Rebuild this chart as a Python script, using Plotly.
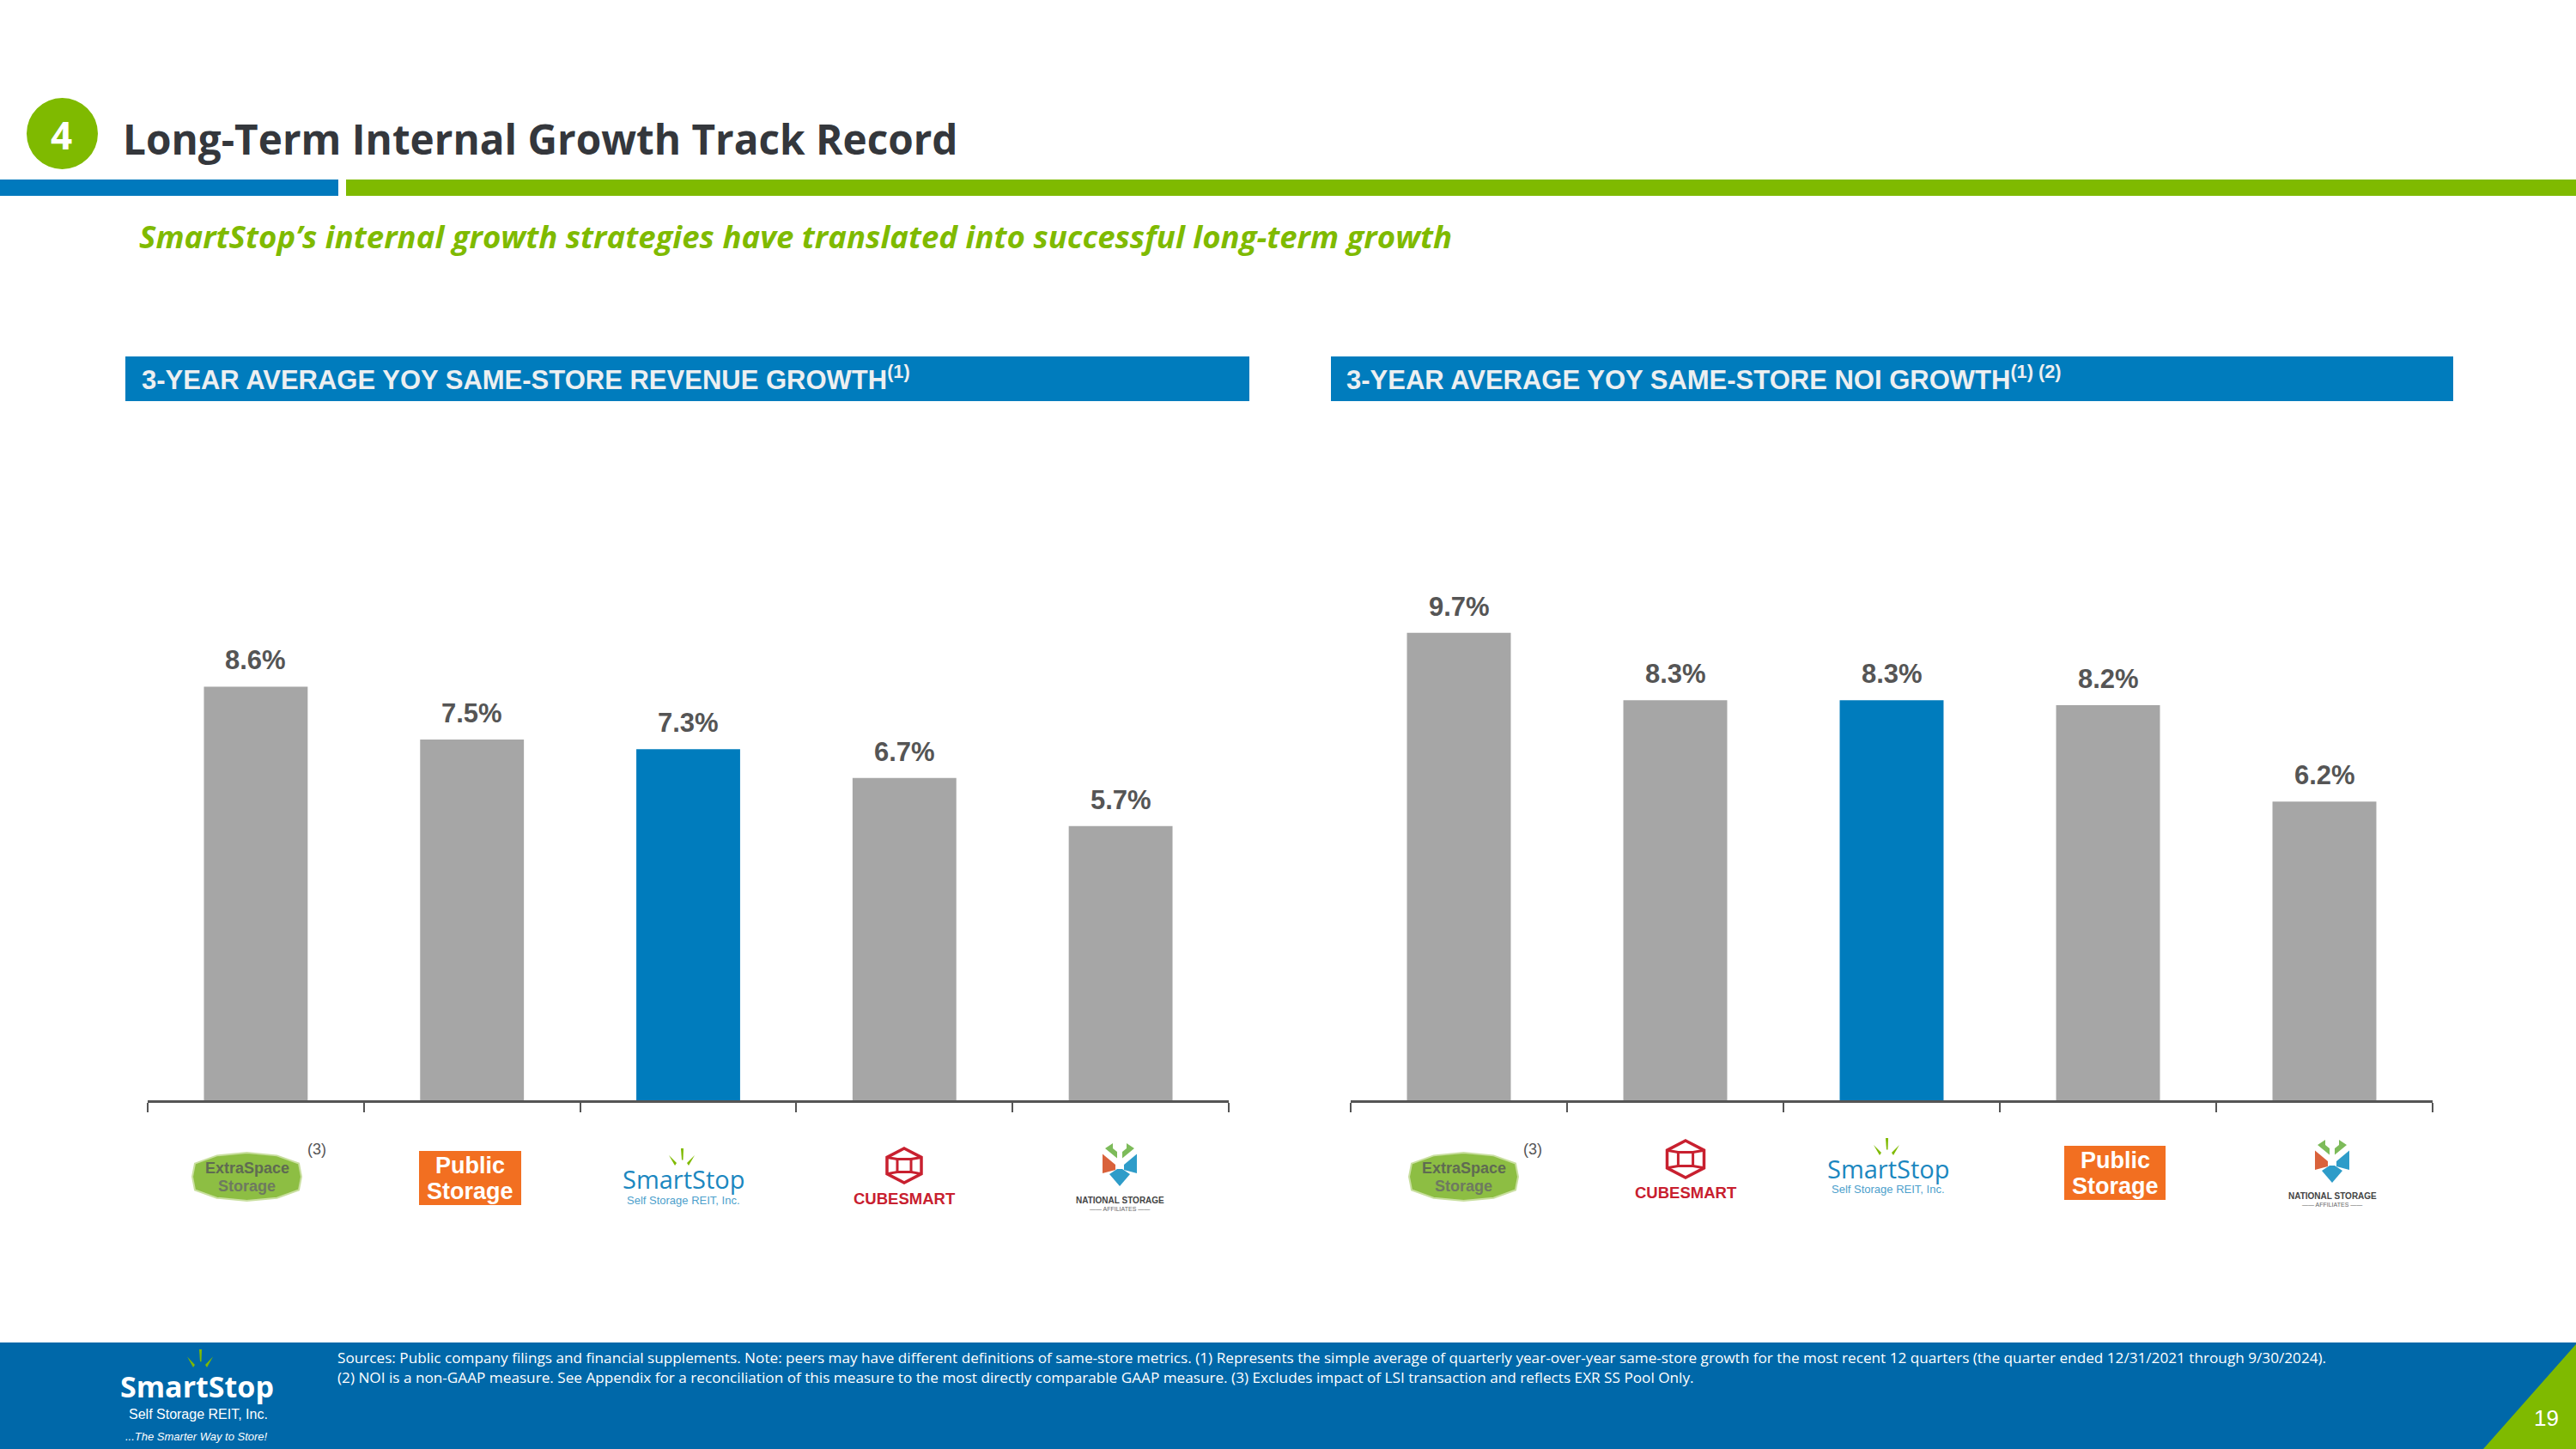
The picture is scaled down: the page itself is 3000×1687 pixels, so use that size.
import plotly.graph_objects as go

W, H = 3000, 1687

# ---- data ----
rev_companies = ["Extra Space Storage", "Public Storage", "SmartStop", "CubeSmart", "National Storage Affiliates"]
rev_values = [8.6, 7.5, 7.3, 6.7, 5.7]
noi_companies = ["Extra Space Storage", "CubeSmart", "SmartStop", "Public Storage", "National Storage Affiliates"]
noi_values = [9.7, 8.3, 8.3, 8.2, 6.2]
highlight = "SmartStop"

title_text = "Long-Term Internal Growth Track Record"
subtitle_text = "SmartStop’s internal growth strategies have translated into successful long-term growth"
rev_title = "3-YEAR AVERAGE YOY SAME-STORE REVENUE GROWTH<sup>(1)</sup>"
noi_title = "3-YEAR AVERAGE YOY SAME-STORE NOI GROWTH<sup>(1) (2)</sup>"
foot_1 = ("Sources: Public company filings and financial supplements. Note: peers may have different definitions of "
          "same-store metrics. (1) Represents the simple average of quarterly year-over-year same-store growth for the "
          "most recent 12 quarters (the quarter ended 12/31/2021 through 9/30/2024).")
foot_2 = ("(2) NOI is a non-GAAP measure. See Appendix for a reconciliation of this measure to the most directly "
          "comparable GAAP measure. (3) Excludes impact of LSI transaction and reflects EXR SS Pool Only.")

# ---- style ----
GREY = "#A6A6A6"
BLUE = "#007CBD"
GREEN = "#7FBA00"
FOOT = "#0068A9"
DARK = "#34373C"
LABEL = "#555555"
SANS = "Liberation Sans"
OPEN = "Open Sans"


def px(x):
    return x / W


def py(y):
    return 1 - y / H


shapes, ann = [], []


def rect(x0, y0, x1, y1, color):
    shapes.append(dict(type="rect", xref="paper", yref="paper", x0=px(x0), x1=px(x1), y0=py(y0), y1=py(y1),
                       fillcolor=color, line_width=0, layer="below"))


def path(pts, fill=None, line=None, lw=0, close=True):
    d = "M" + " L".join(f"{px(a):.5f},{py(b):.5f}" for a, b in pts) + (" Z" if close else "")
    shapes.append(dict(type="path", xref="paper", yref="paper", path=d,
                       fillcolor=fill if fill else "rgba(0,0,0,0)",
                       line=dict(color=line if line else "rgba(0,0,0,0)", width=lw), layer="above"))


def text(x, y, s, size, color, family=SANS, anchor="center", bold=False, italic=False):
    if bold:
        s = f"<b>{s}</b>"
    if italic:
        s = f"<i>{s}</i>"
    ann.append(dict(xref="paper", yref="paper", x=px(x), y=py(y), text=s, showarrow=False, xanchor=anchor,
                    yanchor="middle", align=anchor if anchor != "center" else "center",
                    font=dict(size=size, color=color, family=family), borderpad=0, borderwidth=0))


def sparks(cx, y0, y1, color=GREEN):
    h = y1 - y0
    path([(cx - 1, y0), (cx + 2, y0), (cx + 1.5, y0 + h * 0.75), (cx, y0 + h * 0.75)], fill=color)
    path([(cx - 15, y0 + h * 0.45), (cx - 6, y1 - 1), (cx - 8, y1 + 2)], fill=color)
    path([(cx + 15, y0 + h * 0.45), (cx + 6, y1 - 1), (cx + 8, y1 + 2)], fill=color)


def extra_space(x0, x1, y0, y1):
    cx, cy = (x0 + x1) / 2, (y0 + y1) / 2
    hw, hh = (x1 - x0) / 2, (y1 - y0) / 2
    path([(x0 + 3, cy - hh * 0.55), (cx - hw * 0.55, cy - hh * 0.88), (cx, y0), (cx + hw * 0.55, cy - hh * 0.88),
          (x1 - 3, cy - hh * 0.55), (x1, cy), (x1 - 3, cy + hh * 0.55), (cx + hw * 0.55, cy + hh * 0.88), (cx, y1),
          (cx - hw * 0.55, cy + hh * 0.88), (x0 + 3, cy + hh * 0.55), (x0, cy)],
         fill="#8DBE43", line="#C9DFA0", lw=2)
    text(cx, cy - 10, "ExtraSpace", 18, "#5F6B52", bold=True)
    text(cx, cy + 11, "Storage", 18, "#6E7A60", bold=True)


def public_storage(x0, x1, y0, y1):
    rect(x0, y0, x1, y1, "#F26F21")
    shapes[-1]["layer"] = "above"
    cx, cy = (x0 + x1) / 2, (y0 + y1) / 2
    text(cx, cy - 15, "Public", 27, "white", bold=True)
    text(cx, cy + 15, "Storage", 27, "white", bold=True)


def smartstop(cx, sy0, ty, sub_y):
    sparks(cx - 2, sy0, sy0 + 18)
    text(cx, ty, "SmartStop", 29, "#1B87C0", family=OPEN, bold=False)
    text(cx, sub_y, "Self Storage REIT, Inc.", 13, "#4D9FCC")


def cube(cx, y0, y1, ty):
    red = "#C8202F"
    hw = (y1 - y0) * 0.5
    q = (y1 - y0) * 0.26
    path([(cx, y0), (cx + hw, y0 + q), (cx + hw, y1 - q), (cx, y1), (cx - hw, y1 - q), (cx - hw, y0 + q)],
         line=red, lw=3.5)
    i = hw * 0.4
    path([(cx - hw, y0 + q), (cx - i, y0 + q * 1.2), (cx + i, y0 + q * 1.2), (cx + hw, y0 + q)],
         line=red, lw=3, close=False)
    path([(cx - hw, y1 - q), (cx - i, y1 - q * 1.2), (cx + i, y1 - q * 1.2), (cx + hw, y1 - q)],
         line=red, lw=3, close=False)
    path([(cx - i, y0 + q * 1.2), (cx - i, y1 - q * 1.2)], line=red, lw=3, close=False)
    path([(cx + i, y0 + q * 1.2), (cx + i, y1 - q * 1.2)], line=red, lw=3, close=False)
    text(cx, ty, "CUBESMART", 18.5, red, bold=True)


def nsa(cx, y0, y1, ty):
    h = y1 - y0
    path([(cx - 3, y0 + h * 0.35), (cx - 17, y0 + h * 0.12), (cx - 8, y0), (cx - 8, y0 + h * .12), (cx - 3, y0 + h * .2)],
         fill="#7DBB5A")
    path([(cx + 3, y0 + h * 0.35), (cx + 17, y0 + h * 0.12), (cx + 8, y0), (cx + 8, y0 + h * .12), (cx + 3, y0 + h * .2)],
         fill="#7DBB5A")
    path([(cx - 20, y0 + h * 0.25), (cx - 5, y0 + h * 0.5), (cx - 5, y0 + h * 0.62), (cx - 20, y0 + h * 0.7)],
         fill="#D9623B")
    path([(cx + 20, y0 + h * 0.25), (cx + 5, y0 + h * 0.5), (cx + 5, y0 + h * 0.62), (cx + 20, y0 + h * 0.7)],
         fill="#2E9CC9")
    path([(cx - 12, y0 + h * 0.72), (cx, y1), (cx + 12, y0 + h * 0.72), (cx + 3, y0 + h * 0.6), (cx - 3, y0 + h * 0.6)],
         fill="#2E9CC9")
    text(cx, ty, "NATIONAL STORAGE", 10, "#444444", bold=True)
    text(cx, ty + 10, "—— AFFILIATES ——", 7, "#666666")


def note3(x, y):
    text(x, y, "(3)", 18, "#555555")


# ---- slide furniture ----
rect(0, 209, 394, 228, "#0079BD")
rect(403, 209, W, 228, GREEN)
shapes.append(dict(type="circle", xref="paper", yref="paper", x0=px(31), x1=px(114), y0=py(197), y1=py(114),
                   fillcolor=GREEN, line_width=0))
text(71, 157, "4", 44, "white", family=OPEN, bold=True)
text(143, 161, title_text, 47.7, DARK, family=OPEN, anchor="left", bold=True)
text(162, 275, subtitle_text, 36.6, GREEN, family=OPEN, anchor="left", bold=True, italic=True)

rect(146, 415, 1455, 467, BLUE)
rect(1550, 415, 2857, 467, BLUE)
text(165, 440, rev_title, 31, "#ECEFF1", anchor="left", bold=True)
text(1568, 440, noi_title, 31, "#ECEFF1", anchor="left", bold=True)

rect(0, 1563, W, H, FOOT)
path([(3000, 1565), (3000, H), (2892, H)], fill=GREEN)
text(2965, 1651, "19", 26, "white")
text(393, 1580, foot_1, 17.18, "white", family=OPEN, anchor="left")
text(393, 1603, foot_2, 17.18, "white", family=OPEN, anchor="left")
sparks(233, 1571, 1590)
text(230, 1614, "SmartStop", 34, "white", family=OPEN, bold=True)
text(231, 1646, "Self Storage REIT, Inc.", 16, "white")
text(229, 1672, "...The Smarter Way to Store!", 13, "white", italic=True)

# ---- logos ----
extra_space(224, 351, 1342, 1398)
note3(369, 1338)
public_storage(488, 607, 1340, 1403)
smartstop(796, 1337, 1372, 1397)
cube(1053, 1337, 1377, 1395)
nsa(1304, 1331, 1381, 1397)

extra_space(1641, 1768, 1342, 1398)
note3(1785, 1338)
cube(1963, 1328, 1371, 1388)
smartstop(2199, 1325, 1360, 1384)
public_storage(2404, 2522, 1334, 1397)
nsa(2716, 1327, 1377, 1392)

# ---- charts ----
fig = go.Figure()


def colors(names):
    return [BLUE if n == highlight else GREY for n in names]


fig.add_trace(go.Bar(x=rev_companies, y=rev_values, marker=dict(color=colors(rev_companies), line_width=0),
                     xaxis="x", yaxis="y", hoverinfo="x+y"))
fig.add_trace(go.Bar(x=noi_companies, y=noi_values, marker=dict(color=colors(noi_companies), line_width=0),
                     xaxis="x2", yaxis="y2", hoverinfo="x+y"))

for names, vals, xr, yr in [(rev_companies, rev_values, "x", "y"), (noi_companies, noi_values, "x2", "y2")]:
    for n, v in zip(names, vals):
        ann.append(dict(x=n, y=v, xref=xr, yref=yr, text=f"<b>{v:.1f}%</b>", showarrow=False, yanchor="bottom",
                        yshift=11, font=dict(size=31, color=LABEL, family=SANS)))

axis_common = dict(type="category", tickson="boundaries", ticks="outside", ticklen=11, tickwidth=2, tickcolor=LABEL,
                   showline=True, linecolor=LABEL, linewidth=3, showticklabels=False, showgrid=False, zeroline=False)
ytop, ybase = 300, 1281
y_common = dict(visible=False, showgrid=False, zeroline=False, domain=[py(ybase), py(ytop)])

fig.update_layout(
    width=W, height=H, autosize=False, margin=dict(l=0, r=0, t=0, b=0), paper_bgcolor="white", plot_bgcolor="rgba(0,0,0,0)",
    showlegend=False, bargap=0.52,
    xaxis=dict(domain=[px(172), px(1431)], anchor="y", **axis_common),
    xaxis2=dict(domain=[px(1573), px(2833)], anchor="y2", **axis_common),
    yaxis=dict(range=[0, (ybase - ytop) / 56.0], anchor="x", **y_common),
    yaxis2=dict(range=[0, (ybase - ytop) / 56.1], anchor="x2", **y_common),
    shapes=shapes, annotations=ann,
)
fig.write_html("out.html", config=dict(displayModeBar=False),
               post_script="document.body.style.margin='0';document.body.style.overflow='hidden';")
